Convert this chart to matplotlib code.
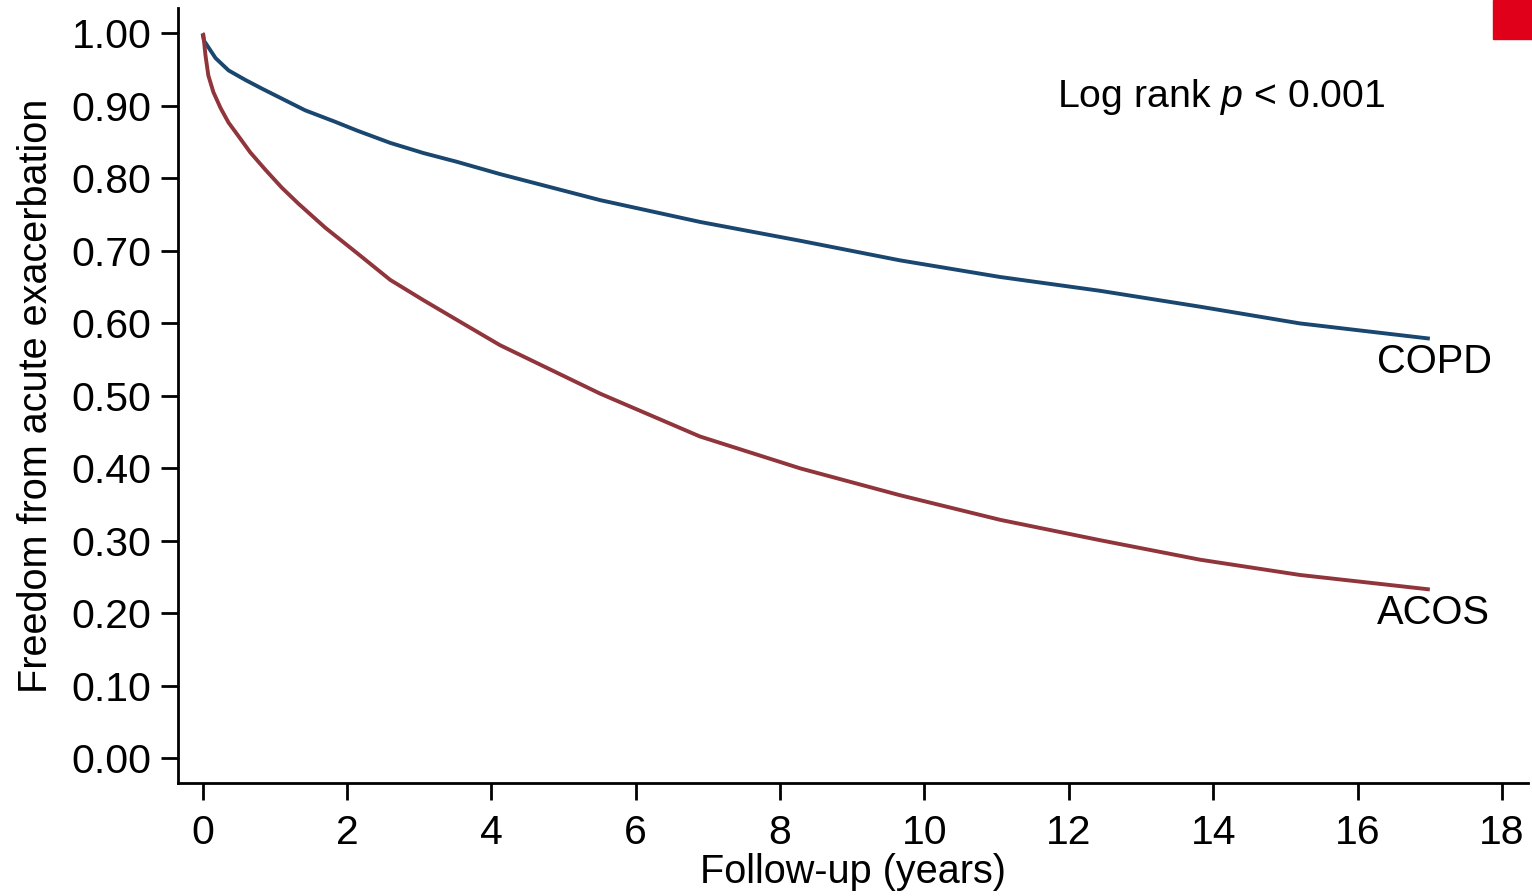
import matplotlib
matplotlib.use("Agg")
import matplotlib.pyplot as plt
from matplotlib.patches import Rectangle

# Kaplan-Meier style curves
copd_years = [0.0, 0.02, 0.06, 0.18, 0.36, 0.59, 0.82, 1.10, 1.42, 1.84, 2.14, 2.60,
              3.06, 3.52, 4.12, 5.51, 6.89, 8.28, 9.66, 11.05, 12.43, 13.82, 15.20, 17.0]
copd_free = [1.0, 0.99, 0.984, 0.966, 0.949, 0.936, 0.924, 0.910, 0.894, 0.878, 0.866, 0.849,
             0.835, 0.823, 0.806, 0.770, 0.740, 0.714, 0.687, 0.664, 0.645, 0.623, 0.600, 0.579]

acos_years = [0.0, 0.01, 0.04, 0.08, 0.15, 0.25, 0.36, 0.50, 0.66, 0.87, 1.10, 1.33, 1.70,
              2.14, 2.60, 3.06, 3.52, 4.12, 5.51, 6.89, 8.28, 9.66, 11.05, 12.43, 13.82,
              15.20, 17.0]
acos_free = [1.0, 0.999, 0.970, 0.942, 0.919, 0.897, 0.877, 0.858, 0.836, 0.812, 0.787, 0.765,
             0.732, 0.697, 0.660, 0.632, 0.605, 0.570, 0.503, 0.444, 0.400, 0.363, 0.329,
             0.301, 0.274, 0.253, 0.233]

x_ticks = [0, 2, 4, 6, 8, 10, 12, 14, 16, 18]
y_ticks = [0.0, 0.1, 0.2, 0.3, 0.4, 0.5, 0.6, 0.7, 0.8, 0.9, 1.0]

plt.rcParams['font.family'] = ['Liberation Sans', 'DejaVu Sans']
plt.rcParams['mathtext.fontset'] = 'custom'
plt.rcParams['mathtext.it'] = 'Liberation Sans:italic'
plt.rcParams['mathtext.rm'] = 'Liberation Sans'

NAVY = '#1a476f'
MAROON = '#90353b'

fig = plt.figure(figsize=(15.32, 8.96), dpi=100)
ax = fig.add_axes([0.1162, 0.1261, 0.8812, 0.8649])

ax.plot(copd_years, copd_free, color=NAVY, lw=2.8, solid_capstyle='butt')
ax.plot(acos_years, acos_free, color=MAROON, lw=2.8, solid_capstyle='butt')

ax.set_xlim(-0.34, 18.36)
ax.set_ylim(-0.034, 1.035)
ax.set_xticks(x_ticks)
ax.set_yticks(y_ticks)
ax.set_yticklabels([f"{v:.2f}" for v in y_ticks])
ax.tick_params(axis='both', labelsize=29.5, length=12, width=2, direction='out', pad=7)
ax.tick_params(axis='x', pad=10)

for side in ['top', 'right']:
    ax.spines[side].set_visible(False)
for side in ['left', 'bottom']:
    ax.spines[side].set_linewidth(2)

ax.set_xlabel('Follow-up (years)', fontsize=28.5, labelpad=1)
ax.set_ylabel('Freedom from acute exacerbation', fontsize=28.5, labelpad=12)

ax.text(16.27, 0.547, 'COPD', fontsize=28.7, va='center', ha='left')
ax.text(16.27, 0.200, 'ACOS', fontsize=28.7, va='center', ha='left')
ax.text(11.84, 0.912, r'Log rank $\it{p}$ < 0.001', fontsize=28.3, va='center', ha='left')

# red corner marker from the source figure
fig.patches.append(Rectangle((1492.7 / 1532, 1 - 39 / 896), 40 / 1532, 39 / 896,
                             transform=fig.transFigure, color='#e0001a', zorder=5))

fig.savefig('out.png', dpi=100)
